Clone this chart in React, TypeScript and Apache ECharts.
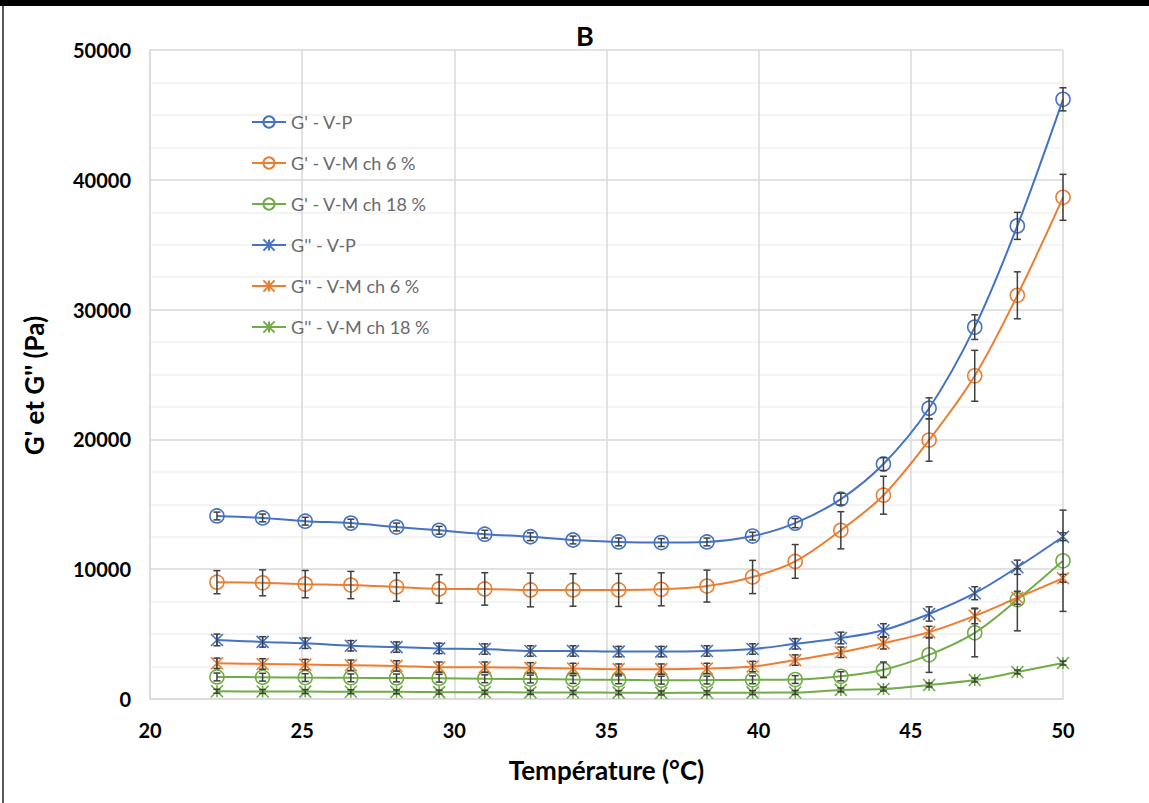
import React, { useEffect, useRef } from "react";
import * as echarts from "echarts";

const temps = [22.2, 23.7, 25.1, 26.6, 28.1, 29.5, 31.0, 32.5, 33.9, 35.4, 36.8, 38.3, 39.8, 41.2, 42.7, 44.1, 45.6, 47.1, 48.5, 50.0];

const gpVP = [14100, 13950, 13700, 13550, 13250, 13000, 12700, 12500, 12250, 12100, 12050, 12100, 12550, 13550, 15400, 18100, 22400, 28650, 36450, 46200];
const gpVPErr = [300, 300, 300, 300, 300, 300, 300, 300, 300, 300, 300, 300, 300, 350, 450, 500, 800, 950, 1040, 890];

const gpM6 = [9000, 8950, 8850, 8780, 8630, 8480, 8480, 8400, 8400, 8400, 8450, 8700, 9400, 10600, 13000, 15700, 19950, 24900, 31100, 38650];
const gpM6Err = [890, 1000, 1050, 1050, 1100, 1100, 1250, 1300, 1250, 1270, 1270, 1230, 1280, 1300, 1430, 1460, 1630, 1960, 1810, 1770];

const gpM18 = [1700, 1680, 1650, 1630, 1620, 1600, 1560, 1540, 1500, 1480, 1450, 1460, 1480, 1500, 1750, 2250, 3400, 5100, 7650, 10650];
const gpM18Err = [300, 300, 300, 300, 300, 300, 300, 300, 300, 300, 300, 300, 300, 300, 350, 600, 1350, 1850, 2400, 3900];

const gsVP = [4550, 4400, 4300, 4100, 4000, 3900, 3850, 3700, 3700, 3650, 3650, 3700, 3850, 4250, 4700, 5300, 6550, 8150, 10150, 12500];
const gsVPErr = [450, 400, 400, 400, 400, 400, 400, 400, 400, 400, 400, 400, 400, 400, 450, 500, 550, 500, 550, 300];

const gsM6 = [2750, 2700, 2650, 2600, 2550, 2450, 2450, 2400, 2350, 2300, 2300, 2350, 2500, 3000, 3600, 4300, 5150, 6400, 7800, 9300];
const gsM6Err = [400, 400, 400, 400, 400, 400, 400, 400, 400, 400, 400, 400, 400, 400, 400, 450, 450, 600, 500, 300];

const gsM18 = [600, 580, 570, 560, 550, 530, 520, 510, 500, 490, 470, 480, 490, 500, 700, 770, 1080, 1460, 2080, 2770];
const gsM18Err = [150, 150, 150, 150, 150, 150, 150, 150, 150, 150, 150, 150, 150, 150, 150, 150, 150, 150, 150, 150];

const names = ["G' - V-P", "G' - V-M ch 6 %", "G' - V-M ch 18 %", "G'' - V-P", "G'' - V-M ch 6 %", "G'' - V-M ch 18 %"];
const colors = ["#4472C4", "#ED7D31", "#70AD47", "#4472C4", "#ED7D31", "#70AD47"];
const values = [gpVP, gpM6, gpM18, gsVP, gsM6, gsM18];
const errors = [gpVPErr, gpM6Err, gpM18Err, gsVPErr, gsM6Err, gsM18Err];

const xTicks = [20, 25, 30, 35, 40, 45, 50];
const yTicks = [0, 10000, 20000, 30000, 40000, 50000];

const STAR = "path://M0,0 L10,10 M10,0 L0,10 M5,0 L5,10";
const FONT = "Lato";

export default function App() {
  const ref = useRef<HTMLDivElement>(null);
  useEffect(() => {
    if (!ref.current) return;
    const chart = echarts.init(ref.current, null, { renderer: "svg" });
    const lineSeries = values.map((vals, i) => ({
      name: names[i],
      type: "line",
      data: temps.map((t, j) => [t, vals[j]]),
      smooth: 0.35,
      symbol: i < 3 ? "circle" : STAR,
      symbolSize: i < 3 ? 14 : 12,
      lineStyle: { color: colors[i], width: 2 },
      itemStyle: { color: i < 3 ? "rgba(255,255,255,0)" : colors[i], borderColor: colors[i], borderWidth: 1.6 },
      emphasis: { disabled: true },
      z: 3,
    }));
    const errSeries = values.map((vals, i) => ({
      name: "err" + i,
      type: "custom",
      data: temps.map((t, j) => [t, vals[j] - errors[i][j], vals[j] + errors[i][j]]),
      encode: { x: 0, y: [1, 2] },
      z: 4,
      renderItem: (params: any, api: any) => {
        const x = api.value(0);
        const lo = api.coord([x, api.value(1)]);
        const hi = api.coord([x, api.value(2)]);
        const w = 3.5;
        const st = { stroke: "#3f3f3f", lineWidth: 1.5 };
        return {
          type: "group",
          children: [
            { type: "line", shape: { x1: lo[0], y1: lo[1], x2: hi[0], y2: hi[1] }, style: st },
            { type: "line", shape: { x1: lo[0] - w, y1: lo[1], x2: lo[0] + w, y2: lo[1] }, style: st },
            { type: "line", shape: { x1: hi[0] - w, y1: hi[1], x2: hi[0] + w, y2: hi[1] }, style: st },
          ],
        };
      },
    }));
    chart.setOption({
      animation: false,
      backgroundColor: "#fff",
      title: {
        text: "B",
        left: 580,
        top: 17,
        textAlign: "center",
        textStyle: { fontFamily: FONT, fontWeight: "bold", fontSize: 27, color: "#000" },
      },
      legend: {
        data: names,
        orient: "vertical",
        left: 246,
        top: 108,
        itemWidth: 34,
        itemHeight: 14,
        itemGap: 23,
        textStyle: { fontFamily: FONT, fontSize: 18, lineHeight: 18, color: "#6a6a6a" },
      },
      grid: { left: 150, right: 86, top: 50, bottom: 104 },
      xAxis: {
        type: "value",
        min: xTicks[0],
        max: xTicks[xTicks.length - 1],
        interval: 5,
        name: "Température (°C)",
        nameLocation: "middle",
        nameGap: 58,
        nameTextStyle: { fontFamily: FONT, fontWeight: "bold", fontSize: 26, color: "#000" },
        axisLine: { show: true, lineStyle: { color: "#d9d9d9", width: 1.5 } },
        axisTick: { show: false },
        axisLabel: { margin: 21, fontFamily: FONT, fontWeight: "bold", fontSize: 20, color: "#000" },
        splitLine: { show: true, lineStyle: { color: "#d9d9d9", width: 1.5 } },
      },
      yAxis: {
        type: "value",
        min: yTicks[0],
        max: yTicks[yTicks.length - 1],
        interval: 10000,
        name: "G' et G'' (Pa)",
        nameLocation: "middle",
        nameGap: 103,
        nameTextStyle: { fontFamily: FONT, fontWeight: "bold", fontSize: 26, color: "#000", padding: [0, 22, 0, 0] },
        axisLine: { show: true, lineStyle: { color: "#d9d9d9", width: 1.5 } },
        axisTick: { show: false },
        axisLabel: {
          margin: 19,
          fontFamily: FONT,
          fontWeight: "bold",
          fontSize: 20,
          color: "#000",
          formatter: (v: number) => String(v),
        },
        splitLine: { show: true, lineStyle: { color: "#d9d9d9", width: 1.5 } },
        minorTick: { show: false, splitNumber: 4 },
        minorSplitLine: { show: true, lineStyle: { color: "#f0f0f0", width: 1.5 } },
      },
      graphic: [
        { type: "rect", shape: { x: 0, y: 0, width: 1149, height: 6 }, style: { fill: "#000" }, z: 100 },
        { type: "rect", shape: { x: 2, y: 6, width: 2, height: 797 }, style: { fill: "#5a5a5a" }, z: 100 },
      ],
      series: [...lineSeries, ...errSeries],
    });
    return () => chart.dispose();
  }, []);
  return <div ref={ref} style={{ position: "absolute", left: 0, top: 0, width: 1149, height: 803 }} />;
}
